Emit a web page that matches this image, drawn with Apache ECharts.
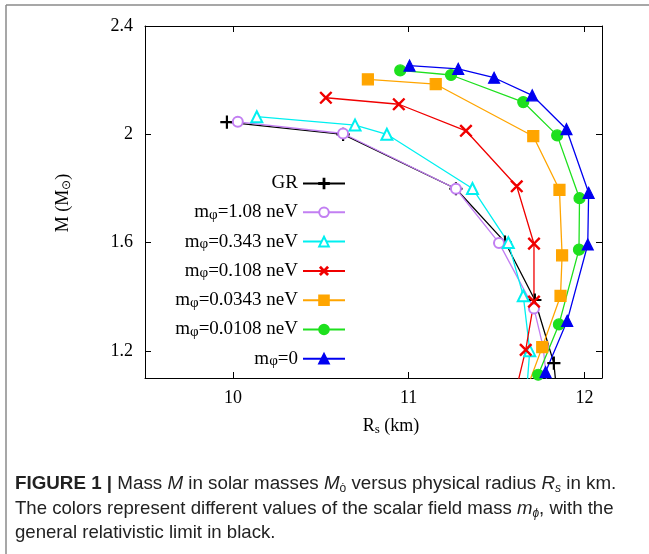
<!DOCTYPE html>
<html>
<head>
<meta charset="utf-8">
<script src="https://cdn.jsdelivr.net/npm/echarts@6/dist/echarts.min.js"></script>
<style>
  html, body { margin: 0; padding: 0; background: #fff; }
  #chart { width: 649px; height: 554px; }
</style>
</head>
<body>
<div id="chart"></div>
<script>
// radius R_s (km) and mass M (M_sun)
const grR = [9.966, 10.627, 11.269, 11.548, 11.718, 11.826, 11.85];
const grM = [2.045, 2.0, 1.799, 1.602, 1.388, 1.155, 1.0];

const m108R = [10.028, 10.627, 11.269, 11.514, 11.713, 11.765, 11.80];
const m108M = [2.046, 2.003, 1.799, 1.599, 1.357, 1.215, 1.0];

const m0343R = [10.136, 10.695, 10.876, 11.363, 11.567, 11.652, 11.689, 11.665];
const m0343M = [2.065, 2.034, 2.0, 1.80, 1.60, 1.404, 1.201, 1.0];

const m0108R = [10.529, 10.944, 11.326, 11.615, 11.713, 11.713, 11.666, 11.59];
const m0108M = [2.135, 2.111, 2.013, 1.808, 1.596, 1.382, 1.204, 1.0];

const m00343R = [10.768, 11.154, 11.709, 11.858, 11.873, 11.864, 11.760, 11.638];
const m00343M = [2.203, 2.185, 1.993, 1.795, 1.553, 1.403, 1.214, 1.0];

const m00108R = [10.952, 11.241, 11.652, 11.845, 11.972, 11.969, 11.855, 11.737];
const m00108M = [2.236, 2.219, 2.119, 1.996, 1.764, 1.574, 1.298, 1.112];

const m0R = [11.005, 11.282, 11.486, 11.703, 11.898, 12.024, 12.019, 11.902, 11.779];
const m0M = [2.254, 2.242, 2.209, 2.144, 2.019, 1.784, 1.593, 1.311, 1.122];

const names = ["GR", "mφ=1.08 neV", "mφ=0.343 neV", "mφ=0.108 neV",
  "mφ=0.0343 neV", "mφ=0.0108 neV", "mφ=0"];

const xTicks = [10, 11, 12];
const yTicks = [1.2, 1.6, 2, 2.4];

const SERIF = "Liberation Serif";
const SANS = "Liberation Sans";

// thin plus sign, rotated 45 deg it becomes the cross
const plusPath = "path://M-0.08,-1L0.08,-1L0.08,-0.08L1,-0.08L1,0.08L0.08,0.08L0.08,1L-0.08,1L-0.08,0.08L-1,0.08L-1,-0.08L-0.08,-0.08Z";

function zip(a, b) {
  return a.map((v, i) => [v, b[i]]);
}

function makeSeries(name, xs, ys, color, symbol, size, extra) {
  return Object.assign({
    name: name,
    type: "line",
    data: zip(xs, ys),
    symbol: symbol,
    symbolSize: size,
    showSymbol: true,
    clip: true,
    lineStyle: { color: color, width: 1.3 },
    itemStyle: { color: color, borderColor: color, borderWidth: 1.2 },
    emphasis: { disabled: true },
    animation: false,
  }, extra || {});
}

const chart = echarts.init(document.getElementById("chart"));

const tickStyle = { color: "#000", width: 1 };
const labelFont = { color: "#000", fontFamily: SERIF, fontSize: 18 };

const option = {
  backgroundColor: "#fff",
  animation: false,
  grid: { left: 145, right: 47, top: 26, bottom: 176 },
  legend: {
    orient: "vertical",
    align: "right",
    right: 298,
    top: 169,
    itemWidth: 42,
    itemHeight: 12,
    itemGap: 9.8,
    selectedMode: false,
    data: names,
    formatter: function (name) {
      if (name === "GR") return "{t|GR}";
      return "{t|m}{s|φ}{t|" + name.slice(2) + "}";
    },
    textStyle: {
      color: "#000",
      rich: {
        t: { fontFamily: SERIF, fontSize: 19, lineHeight: 20, color: "#000" },
        s: { fontFamily: SERIF, fontSize: 15, lineHeight: 4, verticalAlign: "bottom", color: "#000" },
      },
    },
  },
  xAxis: [
    {
      type: "value", min: 9.5, max: 12.1, position: "bottom",
      axisLine: { show: true, onZero: false, lineStyle: tickStyle },
      axisTick: { show: true, inside: true, length: 6, customValues: xTicks, lineStyle: tickStyle },
      axisLabel: Object.assign({ customValues: xTicks, margin: 11 }, labelFont),
      splitLine: { show: false },
    },
    {
      type: "value", min: 9.5, max: 12.1, position: "top",
      axisLine: { show: true, onZero: false, lineStyle: tickStyle },
      axisTick: { show: true, inside: true, length: 6, customValues: xTicks, lineStyle: tickStyle },
      axisLabel: { show: false },
      splitLine: { show: false },
    },
  ],
  yAxis: [
    {
      type: "value", min: 1.1, max: 2.4, position: "left",
      axisLine: { show: true, onZero: false, lineStyle: tickStyle },
      axisTick: { show: true, inside: true, length: 6, customValues: yTicks, lineStyle: tickStyle },
      axisLabel: Object.assign({ customValues: yTicks, margin: 12, formatter: v => String(v) }, labelFont),
      splitLine: { show: false },
    },
    {
      type: "value", min: 1.1, max: 2.4, position: "right",
      axisLine: { show: true, onZero: false, lineStyle: tickStyle },
      axisTick: { show: true, inside: true, length: 6, customValues: yTicks, lineStyle: tickStyle },
      axisLabel: { show: false },
      splitLine: { show: false },
    },
  ],
  series: [
    makeSeries(names[0], grR, grM, "#000000", plusPath, 12),
    makeSeries(names[1], m108R, m108M, "#c27ff2", "emptyCircle", 10),
    makeSeries(names[2], m0343R, m0343M, "#00f0f0", "emptyTriangle", 11),
    makeSeries(names[3], m0108R, m0108M, "#f00000", plusPath, 15, { symbolRotate: 45 }),
    makeSeries(names[4], m00343R, m00343M, "#ffa500", "rect", 11),
    makeSeries(names[5], m00108R, m00108M, "#1ee01e", "circle", 11),
    makeSeries(names[6], m0R, m0M, "#0000f0", "triangle", 11),
  ],
  graphic: [
    // figure frame
    { type: "line", shape: { x1: 6, y1: 5, x2: 649, y2: 5 }, style: { stroke: "#8a8a8a", lineWidth: 1.5 } },
    { type: "line", shape: { x1: 6, y1: 5, x2: 6, y2: 554 }, style: { stroke: "#8a8a8a", lineWidth: 1.5 } },
    // axis titles
    {
      type: "text", x: 63, y: 203, rotation: Math.PI / 2,
      style: {
        text: "{a|M (M}{s|⊙}{a|)}", align: "center", verticalAlign: "middle",
        rich: {
          a: { fontFamily: SERIF, fontSize: 18, lineHeight: 20, fill: "#000" },
          s: { fontFamily: SERIF, fontSize: 12, lineHeight: 6, verticalAlign: "bottom", fill: "#000" },
        },
      },
    },
    {
      type: "text", x: 391, y: 426,
      style: {
        text: "{a|R}{s|s}{a| (km)}", align: "center", verticalAlign: "middle",
        rich: {
          a: { fontFamily: SERIF, fontSize: 18, lineHeight: 20, fill: "#000" },
          s: { fontFamily: SERIF, fontSize: 13, lineHeight: 6, verticalAlign: "bottom", fill: "#000" },
        },
      },
    },
    // caption
    {
      type: "text", x: 15, y: 484,
      style: {
        text: "{b|FIGURE 1 | }{n|Mass }{i|M}{n| in solar masses }{i|M}{s|ȯ}{n| versus physical radius }{i|R}{si|s}{n| in km.}",
        verticalAlign: "middle",
        rich: {
          b: { fontFamily: SANS, fontSize: 18.8, fontWeight: "bold", lineHeight: 22, fill: "#222" },
          n: { fontFamily: SANS, fontSize: 18.8, lineHeight: 22, fill: "#222" },
          i: { fontFamily: SANS, fontSize: 18.8, fontStyle: "italic", lineHeight: 22, fill: "#222" },
          s: { fontFamily: SANS, fontSize: 12, lineHeight: 6, verticalAlign: "bottom", fill: "#222" },
          si: { fontFamily: SANS, fontSize: 12, fontStyle: "italic", lineHeight: 6, verticalAlign: "bottom", fill: "#222" },
        },
      },
    },
    {
      type: "text", x: 15, y: 509,
      style: {
        text: "{n|The colors represent different values of the scalar field mass }{i|m}{si|ϕ}{n|, with the}",
        verticalAlign: "middle",
        rich: {
          n: { fontFamily: SANS, fontSize: 18.6, lineHeight: 22, fill: "#222" },
          i: { fontFamily: SANS, fontSize: 18.6, fontStyle: "italic", lineHeight: 22, fill: "#222" },
          si: { fontFamily: SANS, fontSize: 12, fontStyle: "italic", lineHeight: 6, verticalAlign: "bottom", fill: "#222" },
        },
      },
    },
    {
      type: "text", x: 15, y: 533,
      style: {
        text: "general relativistic limit in black.",
        verticalAlign: "middle",
        fontFamily: SANS, fontSize: 18.6, fill: "#222",
      },
    },
  ],
};

chart.setOption(option);
</script>
</body>
</html>
